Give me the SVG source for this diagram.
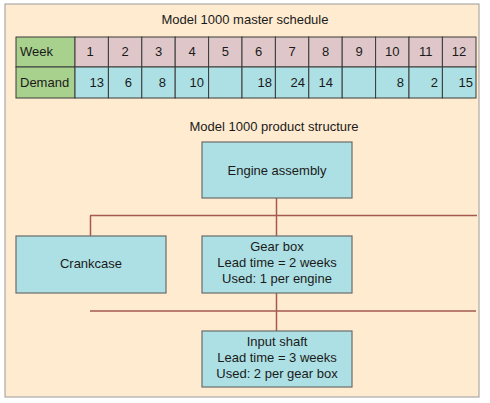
<svg xmlns="http://www.w3.org/2000/svg" width="490" height="403" viewBox="0 0 490 403">
<style>
text{font-family:"Liberation Sans",Arial,sans-serif;font-size:13px;fill:#1a1a1a}
.c{text-anchor:middle}
.r{text-anchor:end}
.cell{stroke:#3a3a3a;stroke-width:1}
.wk{fill:#dfc7c9}
.dm{fill:#ade0e4}
.hd{fill:#a9d18e}
.node rect{fill:#ade0e4;stroke:#6b6b6b;stroke-width:1.2}
.conn line{stroke:#a5594f;stroke-width:1.5}
</style>
<rect x="0" y="0" width="490" height="403" fill="#ffffff"/>
<rect x="5" y="4" width="474" height="393" fill="#feebd0" stroke="#9a9a9a" stroke-width="1"/>
<text class="c" x="245" y="24">Model 1000 master schedule</text>
<g id="schedule">
<rect class="cell hd" x="16" y="37" width="59" height="30"/>
<rect class="cell hd" x="16" y="67" width="59" height="31"/>
<text x="20" y="56">Week</text>
<text x="20" y="87">Demand</text>
<g id="weekrow">
<rect class="cell wk" x="75" y="37" width="33.4" height="30"/>
<rect class="cell wk" x="108.4" y="37" width="33.4" height="30"/>
<rect class="cell wk" x="141.8" y="37" width="33.4" height="30"/>
<rect class="cell wk" x="175.2" y="37" width="33.4" height="30"/>
<rect class="cell wk" x="208.6" y="37" width="33.4" height="30"/>
<rect class="cell wk" x="242" y="37" width="33.4" height="30"/>
<rect class="cell wk" x="275.4" y="37" width="33.4" height="30"/>
<rect class="cell wk" x="308.8" y="37" width="33.4" height="30"/>
<rect class="cell wk" x="342.2" y="37" width="33.4" height="30"/>
<rect class="cell wk" x="375.6" y="37" width="33.4" height="30"/>
<rect class="cell wk" x="409" y="37" width="33.4" height="30"/>
<rect class="cell wk" x="442.4" y="37" width="33.6" height="30"/>
<text class="c" x="90" y="56">1</text>
<text class="c" x="125" y="56">2</text>
<text class="c" x="158.5" y="56">3</text>
<text class="c" x="192" y="56">4</text>
<text class="c" x="225.3" y="56">5</text>
<text class="c" x="258.7" y="56">6</text>
<text class="c" x="292" y="56">7</text>
<text class="c" x="325.5" y="56">8</text>
<text class="c" x="359" y="56">9</text>
<text class="c" x="392.3" y="56">10</text>
<text class="c" x="425.7" y="56">11</text>
<text class="c" x="459" y="56">12</text>
</g>
<g id="demandrow">
<rect class="cell dm" x="75" y="67" width="33.4" height="31"/>
<rect class="cell dm" x="108.4" y="67" width="33.4" height="31"/>
<rect class="cell dm" x="141.8" y="67" width="33.4" height="31"/>
<rect class="cell dm" x="175.2" y="67" width="33.4" height="31"/>
<rect class="cell dm" x="208.6" y="67" width="33.4" height="31"/>
<rect class="cell dm" x="242" y="67" width="33.4" height="31"/>
<rect class="cell dm" x="275.4" y="67" width="33.4" height="31"/>
<rect class="cell dm" x="308.8" y="67" width="33.4" height="31"/>
<rect class="cell dm" x="342.2" y="67" width="33.4" height="31"/>
<rect class="cell dm" x="375.6" y="67" width="33.4" height="31"/>
<rect class="cell dm" x="409" y="67" width="33.4" height="31"/>
<rect class="cell dm" x="442.4" y="67" width="33.6" height="31"/>
<text class="r" x="104" y="87">13</text>
<text class="r" x="132" y="87">6</text>
<text class="r" x="166" y="87">8</text>
<text class="r" x="204" y="87">10</text>
<text class="r" x="272" y="87">18</text>
<text class="r" x="305" y="87">24</text>
<text class="r" x="333" y="87">14</text>
<text class="r" x="404" y="87">8</text>
<text class="r" x="438" y="87">2</text>
<text class="r" x="473" y="87">15</text>
</g>
</g>
<text class="c" x="274" y="131">Model 1000 product structure</text>
<g id="connectors" class="conn">
<line x1="276.5" y1="198" x2="276.5" y2="236"/>
<line x1="90" y1="215.5" x2="477" y2="215.5"/>
<line x1="90.5" y1="215.5" x2="90.5" y2="236"/>
<line x1="276.5" y1="293" x2="276.5" y2="331"/>
<line x1="90" y1="311" x2="476" y2="311"/>
</g>
<g id="engine" class="node">
<rect x="202" y="142" width="150" height="56"/>
<text class="c" x="277" y="175">Engine assembly</text>
</g>
<g id="crankcase" class="node">
<rect x="16" y="236" width="150" height="57"/>
<text class="c" x="91" y="268">Crankcase</text>
</g>
<g id="gearbox" class="node">
<rect x="202" y="236" width="150" height="57"/>
<text class="c" x="277" y="251">Gear box</text>
<text class="c" x="277" y="267">Lead time = 2 weeks</text>
<text class="c" x="277" y="283">Used: 1 per engine</text>
</g>
<g id="inputshaft" class="node">
<rect x="202" y="331" width="150" height="56"/>
<text class="c" x="277" y="346">Input shaft</text>
<text class="c" x="277" y="362">Lead time = 3 weeks</text>
<text class="c" x="277" y="378">Used: 2 per gear box</text>
</g>
</svg>
